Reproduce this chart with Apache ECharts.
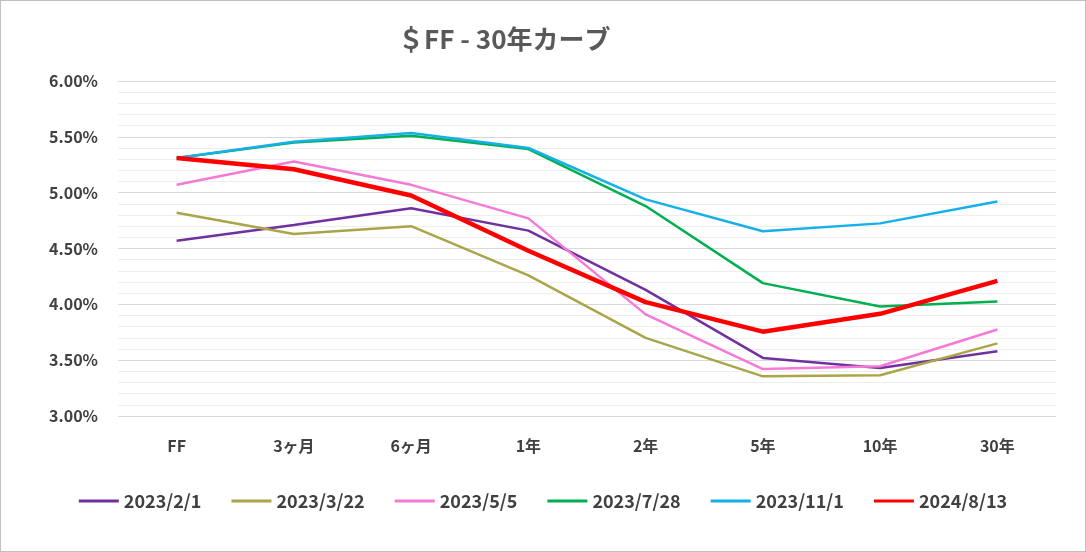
<!DOCTYPE html>
<html><head><meta charset="utf-8">
<script src="https://cdn.jsdelivr.net/npm/echarts@6/dist/echarts.min.js"></script>
<style>html,body{margin:0;background:#fff}#c{width:1084px;height:550px;border:1px solid #bfbfbf}</style>
</head><body><div id="c"></div>
<script>
const categories = ['FF', '3ヶ月', '6ヶ月', '1年', '2年', '5年', '10年', '30年'];
const s20230201 = [4.57, 4.71, 4.86, 4.66, 4.13, 3.52, 3.43, 3.58];
const s20230322 = [4.82, 4.63, 4.70, 4.26, 3.70, 3.355, 3.365, 3.65];
const s20230505 = [5.07, 5.28, 5.07, 4.77, 3.91, 3.42, 3.445, 3.775];
const s20230728 = [5.31, 5.45, 5.51, 5.39, 4.88, 4.19, 3.98, 4.025];
const s20231101 = [5.31, 5.455, 5.535, 5.40, 4.94, 4.655, 4.725, 4.92];
const s20240813 = [5.31, 5.21, 4.975, 4.48, 4.02, 3.755, 3.915, 4.21];

const font = '"Noto Sans CJK JP", sans-serif';
const mk = (name, data, color, width) => ({
  name, type: 'line', data, symbol: 'none', lineStyle: { color, width }, itemStyle: { color }
});
const chart = echarts.init(document.getElementById('c'));
chart.setOption({
  animation: false,
  title: { text: '＄FF - 30年カーブ', left: 392, top: 20,
    textStyle: { fontFamily: font, fontSize: 26, fontWeight: 'bold', color: '#595959' } },
  grid: { left: 117, right: 29, top: 80, bottom: 135 },
  legend: { bottom: 36, left: 'center', itemWidth: 40, itemHeight: 3, itemGap: 30,
    icon: 'rect', textStyle: { fontFamily: font, fontSize: 18, fontWeight: 'bold', color: '#404040' } },
  xAxis: { type: 'category', data: categories, boundaryGap: true,
    axisLine: { show: false }, axisTick: { show: false },
    axisLabel: { margin: 22, fontFamily: font, fontSize: 16, fontWeight: 'bold', color: '#404040' } },
  yAxis: { type: 'value', min: 3, max: 6, interval: 0.5,
    axisLabel: { formatter: v => v.toFixed(2) + '%', fontFamily: font, fontSize: 16, fontWeight: 'bold', color: '#404040', margin: 20 },
    splitLine: { lineStyle: { color: '#d9d9d9' } },
    minorTick: { show: false, splitNumber: 5 },
    minorSplitLine: { show: true, lineStyle: { color: '#eeeeee' } } },
  series: [
    mk('2023/2/1', s20230201, '#7030a0', 2.5),
    mk('2023/3/22', s20230322, '#aaa548', 2.5),
    mk('2023/5/5', s20230505, '#f57ad6', 2.5),
    mk('2023/7/28', s20230728, '#00b050', 2.5),
    mk('2023/11/1', s20231101, '#16b0e8', 2.5),
    mk('2024/8/13', s20240813, '#ff0000', 4.5)
  ]
});
</script></body></html>
